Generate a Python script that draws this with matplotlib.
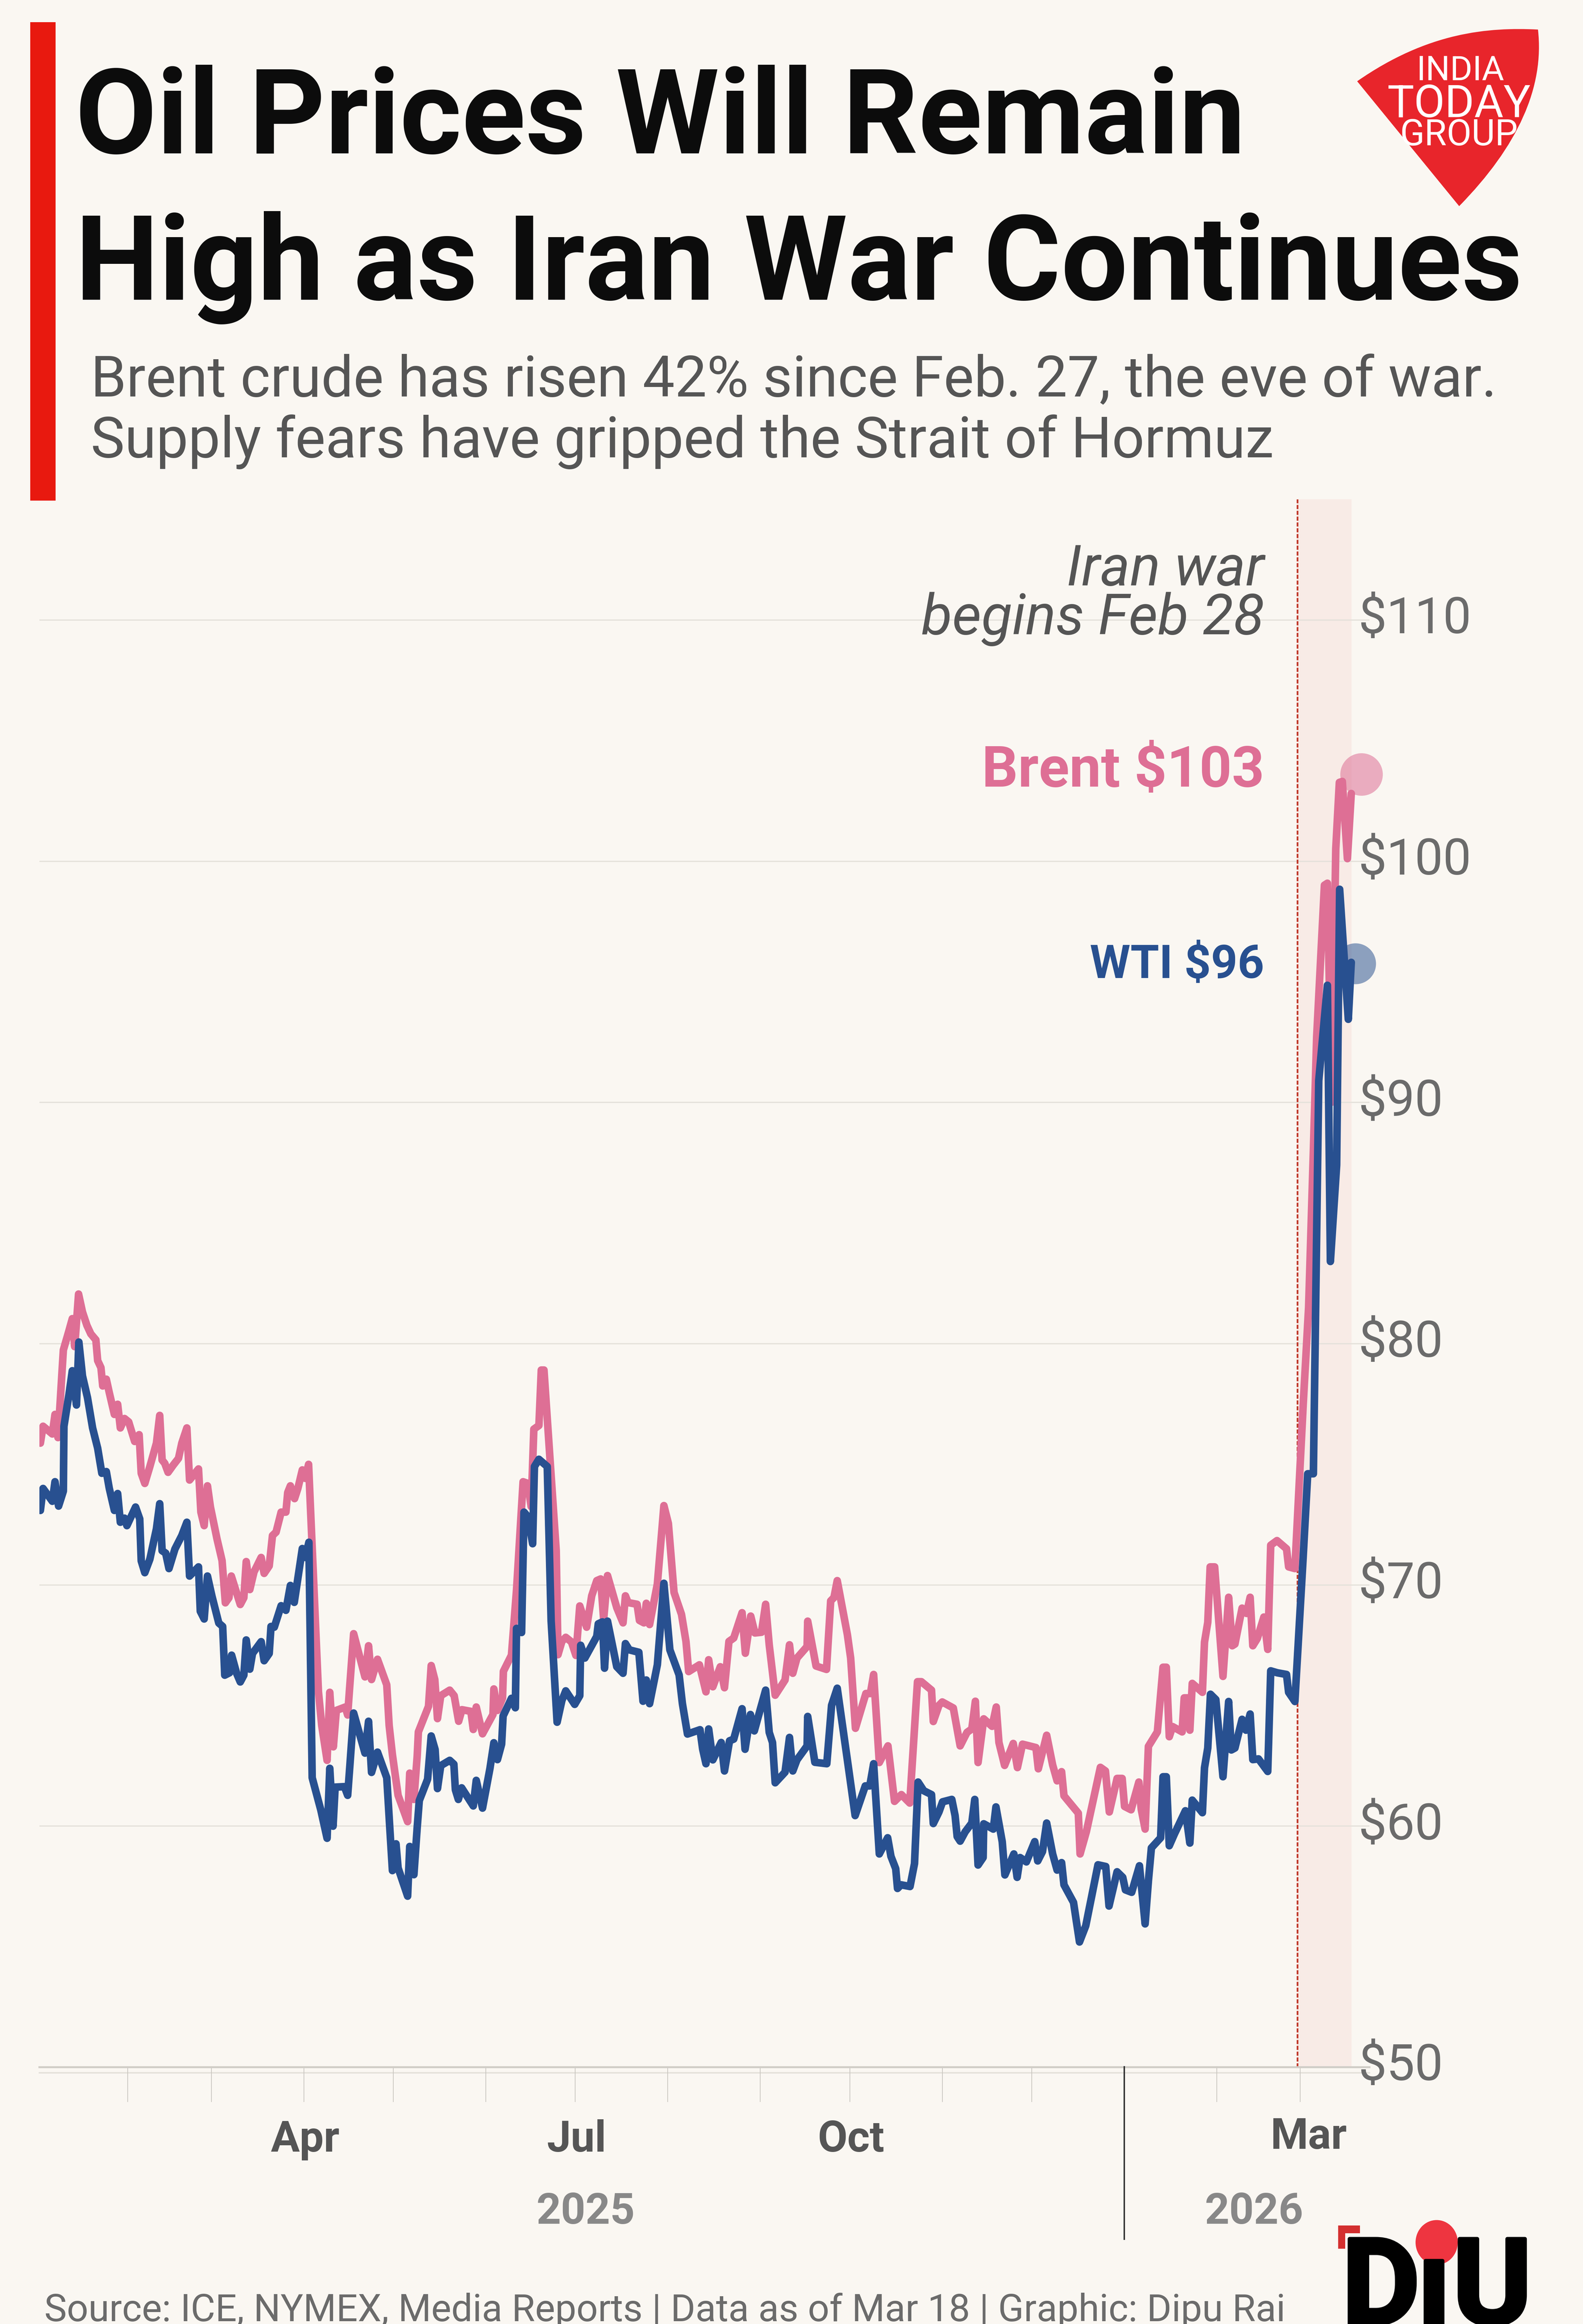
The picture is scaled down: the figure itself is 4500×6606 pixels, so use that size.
import matplotlib
matplotlib.use("Agg")
import matplotlib.pyplot as plt
import matplotlib.patheffects as pe
from matplotlib.path import Path
from matplotlib.patches import PathPatch, Rectangle, Ellipse
import pandas as pd

W, H = 4500, 6607

# days since 1 Jan 2025, prices
brent_days = [2.2, 3.1, 6.2, 7.1, 8.1, 9.9, 11.8, 12.9, 13.7, 15, 16.3, 17.8, 19.1, 20.8, 21.4, 22.5, 23.1, 24.3, 25.3, 27,
              28.1, 29, 30.4, 31.8, 33.8, 35.3, 36, 37.2, 38.9, 41.1, 42.2, 43, 43.9, 45, 46.8, 48.5, 49.6, 51.3, 52.2, 55.2,
              56, 57.1, 58.2, 59.2, 61.4, 63.1, 64.2, 65.4, 66.2, 69.2, 70.4, 71.2, 72.4, 73.8, 76.2, 77.2, 78.9, 80, 81.2, 82.9,
              84.5, 85.1, 86, 87.4, 88.5, 90, 91, 92.1, 95.4, 96.5, 98.3, 99.2, 100.4, 101.4, 104.4, 105.2, 105.9, 107.2, 111, 112.2,
              113.2, 115.2, 118.3, 119.1, 120.2, 122.1, 125.3, 126, 127.4, 128.5, 128.9, 132.3, 133.2, 134.4, 135.3, 136.4, 139.4, 140.9, 142.4, 143.5,
              146.5, 147.3, 148.3, 150.4, 153.9, 154.2, 155.4, 157.1, 157.4, 160.1, 161.8, 164, 165.6, 166.7, 167.6, 169.3, 170.1, 171, 175.1, 175.7,
              177, 178.3, 180.2, 181.7, 183, 185.3, 187, 188.7, 190, 191, 192.3, 195.4, 197.5, 198.3, 199.2, 202.2, 203, 204.5, 205.3, 206.4,
              209, 211.2, 212.7, 214.6, 217.1, 218.6, 219.5, 223.1, 225.3, 226.2, 227.6, 230.1, 231.5, 233, 234.6, 237.4, 238.5, 240.3, 241.7, 243.9,
              245.3, 246.5, 248.5, 251.8, 253.3, 254.4, 255.8, 259.2, 259.4, 262.2, 265.7, 267.1, 268.2, 269.3, 272.7, 273.8, 275.4, 278.9, 280.4, 281.5,
              283.4, 286.3, 288.5, 290.8, 293.6, 296.2, 297.5, 300.9, 301.5, 303.4, 304.5, 308.2, 310.5, 312.8, 314.4, 315.6, 316.5, 318.4, 321.2, 322.6,
              323.5, 325.4, 328.3, 329.7, 331.4, 335.9, 336.7, 339.5, 341.5, 343, 344.5, 345.3, 350.1, 350.7, 352.8, 357.5, 359.2, 360.5, 363.1, 364.8,
              365.6, 367.8, 370.4, 371.2, 372.5, 373.6, 376.6, 378.5, 379.6, 380.6, 381.7, 384.9, 385.6, 386.8, 387.5, 388.3, 391.7, 392.4, 393.5, 394.3,
              395.8, 398.6, 400.5, 401.7, 402.6, 405, 406.5, 407.7, 408.6, 410.1, 412.3, 413.6, 414.6, 416.7, 419.9, 420.6, 422.7, 425.5, 427.3, 428.9,
              430, 432.6, 433.6, 435, 436.4, 437.6, 438.6, 440.3, 441.6]
brent_vals = [75.87, 76.57, 76.25, 77.06, 76.1, 79.73, 80.54, 81.03, 79.87, 82.05, 81.31, 80.75, 80.4, 80.15, 79.29, 79.0, 78.24, 78.52, 77.96, 77.06,
              77.48, 76.5, 76.89, 76.75, 75.94, 76.22, 74.62, 74.2, 74.9, 75.87, 77.02, 75.17, 75.03, 74.66, 74.97, 75.24, 75.87, 76.5, 74.34, 74.8,
              73.01, 72.45, 74.1, 73.22, 71.9, 71.0, 69.25, 69.46, 70.36, 69.18, 69.46, 70.96, 69.8, 70.53, 71.13, 70.47, 70.78, 72.04, 72.18, 73.01,
              73.01, 73.82, 74.1, 73.57, 73.99, 74.76, 74.41, 74.99, 65.57, 64.17, 62.72, 65.54, 63.28, 64.79, 64.93, 64.6, 65.8, 67.97, 66.18, 67.47,
              66.07, 66.91, 65.85, 64.17, 62.95, 61.27, 60.18, 62.19, 61.1, 62.89, 63.9, 64.96, 66.65, 66.07, 64.45, 65.4, 65.63, 65.4, 64.34, 64.82,
              64.75, 64.0, 64.93, 63.82, 64.62, 65.68, 64.79, 65.3, 66.41, 67.08, 69.78, 74.27, 74.2, 73.24, 76.45, 76.6, 78.9, 78.9, 71.42, 67.1,
              67.65, 67.82, 67.63, 67.07, 69.12, 68.24, 69.54, 70.17, 70.24, 68.56, 70.38, 69.05, 68.42, 69.54, 69.26, 69.19, 68.52, 68.42, 69.23, 68.35,
              70.03, 73.28, 72.54, 69.68, 68.77, 67.65, 66.4, 66.68, 65.56, 66.89, 65.77, 66.6, 65.73, 67.65, 67.79, 68.84, 67.16, 68.7, 68, 68.03,
              69.19, 67.51, 65.42, 66.05, 67.51, 66.33, 66.96, 67.44, 68.49, 66.63, 66.49, 69.33, 69.47, 70.17, 67.93, 66.96, 64.05, 65.49, 65.49, 66.28,
              62.63, 63.32, 61.02, 61.3, 60.95, 65.98, 65.98, 65.63, 64.33, 65, 65.14, 64.89, 63.32, 63.88, 64.02, 65.17, 62.63, 64.44, 64.13, 64.93,
              63.46, 62.51, 63.42, 62.42, 63.39, 63.25, 62.37, 63.76, 62.53, 61.87, 62.25, 61.25, 60.53, 58.84, 59.76, 62.43, 62.28, 60.58, 61.97, 61.97,
              60.81, 60.67, 61.82, 60.69, 59.87, 63.3, 63.9, 66.58, 66.58, 63.7, 64.12, 63.9, 65.31, 65.31, 63.97, 65.91, 65.54, 67.62, 68.44, 70.74,
              70.74, 66.2, 69.48, 67.47, 67.54, 69.03, 68.81, 69.48, 67.47, 67.77, 68.66, 67.32, 71.64, 71.83, 71.49, 70.74, 70.67, 77.5, 81.5, 88,
              92.7, 99, 99.08, 90, 100.5, 103.26, 103.3, 100.1, 102.8]

wti_days = [2.2, 3.1, 6.2, 7.1, 8.3, 9.9, 10.1, 11.8, 12.9, 14.3, 15.1, 16.3, 18, 19.7, 21.4, 22.8, 24.3, 25.3, 27, 28.1,
            29, 30.4, 31.2, 34.1, 35.5, 36, 37.2, 38.9, 41.1, 42.2, 43, 44.2, 45.3, 47.3, 49.6, 51.3, 52.2, 55.2, 55.8, 57.1,
            58.2, 59.7, 62, 63.3, 64, 65.6, 66.3, 68, 69.2, 70.4, 71.2, 72.4, 73.3, 76.2, 77.2, 78.9, 79.5, 80.6, 82.9, 84.5,
            86, 87.3, 90, 91, 92.2, 93.3, 96.2, 98.3, 99.2, 100.3, 101, 104.1, 105.2, 105.9, 107.2, 111, 112.2, 113.2, 115.2, 118.3,
            119.2, 120.2, 121.4, 122.1, 125.3, 126, 127.4, 128.5, 129.2, 132, 133.2, 134.5, 135.3, 136.4, 139.4, 140.8, 141.3, 142.3, 143.4, 147.3,
            148.3, 150.4, 152.9, 154.2, 155.4, 156.8, 157.3, 160.1, 161.4, 161.8, 163.5, 164.3, 165.6, 167.2, 167.8, 169.3, 172.1, 173.4, 175.4, 177,
            178.3, 181.3, 183, 183.3, 184.7, 188.7, 189.2, 190.6, 191.3, 192.3, 195.4, 197.5, 198.3, 199.6, 202.8, 204.2, 205.3, 206.4, 209, 211.2,
            213.2, 216.3, 217.4, 219.1, 223.3, 224.2, 225.3, 226.2, 227.6, 230.4, 231.5, 233.2, 234.6, 237.4, 238.4, 240.2, 241.5, 245.3, 246.5, 247.6,
            248.5, 251.8, 253.3, 254.4, 255.8, 259.2, 259.4, 261.8, 265.8, 267.4, 269.3, 273.1, 275.3, 278.7, 280.2, 281.5, 283.4, 286.2, 287.3, 288.9,
            289.5, 290.7, 293.7, 295.2, 296.4, 298.3, 300.9, 301.5, 303.4, 304.6, 307.7, 308.8, 309.5, 310.5, 312.2, 314.4, 315.4, 316.5, 318.2, 318.4,
            321.6, 322.5, 324.6, 325.5, 328.5, 329.6, 330.6, 332.7, 335.5, 336.5, 338.1, 339.5, 341.5, 343, 344.5, 345.3, 348.5, 350.5, 352.6, 356.7,
            359.3, 360.4, 363.1, 365, 365.9, 368, 370.6, 372.5, 373.6, 374.6, 377.7, 378.5, 379.6, 380.6, 382.3, 386, 387.5, 388.3, 391.7, 392.4,
            393.5, 394.4, 396.2, 398.6, 400.5, 401.4, 402.6, 405, 406.3, 407.7, 408.6, 410.5, 413.6, 414.6, 416.8, 419.9, 420.6, 422.7, 425.5, 427,
            428.9, 430.7, 433.6, 434.6, 436.7, 437.7, 440.6, 441.6]
wti_vals = [73.08, 73.99, 73.46, 74.27, 73.26, 73.88, 76.57, 77.9, 78.87, 77.45, 80.06, 78.66, 77.75, 76.5, 75.66, 74.62, 74.69, 73.99, 73.08, 73.78,
            72.59, 72.76, 72.45, 73.22, 72.73, 70.99, 70.5, 71.06, 72.32, 73.36, 71.41, 71.31, 70.67, 71.48, 72.04, 72.59, 70.36, 70.74, 68.9, 68.58,
            70.36, 69.53, 68.41, 68.27, 66.25, 66.35, 67.08, 66.32, 65.97, 66.25, 67.71, 66.5, 67.15, 67.64, 66.85, 67.15, 68.27, 68.24, 69.13, 68.94,
            69.97, 69.27, 71.5, 71.13, 71.76, 62, 60.66, 59.49, 62.39, 59.99, 61.61, 61.63, 61.27, 62.44, 64.68, 63.02, 64.34, 62.22, 63.06, 62,
            60.16, 58.15, 59.26, 58.26, 57.09, 59.15, 57.98, 59.93, 61.05, 61.94, 63.73, 63.17, 61.55, 62.5, 62.72, 62.56, 61.5, 61.1, 61.58, 60.83,
            61.89, 60.74, 62.39, 63.45, 62.75, 63.39, 64.56, 65.29, 64.9, 68.19, 68.02, 73.01, 72.82, 71.7, 74.9, 75.2, 74.9, 68.5, 64.3, 65.2,
            65.6, 65.04, 65.4, 67.49, 66.96, 67.86, 68.38, 68.46, 66.54, 68.49, 66.6, 66.33, 67.56, 67.3, 67.2, 65.17, 66.05, 65.07, 66.68, 70.06,
            67.3, 66.26, 65.07, 63.81, 63.99, 63.18, 62.58, 64.02, 62.74, 63.46, 62.28, 63.53, 63.6, 64.86, 63.18, 64.62, 63.94, 65.63, 63.88, 63.46,
            61.79, 62.23, 63.67, 62.28, 62.74, 63.32, 64.54, 62.64, 62.58, 65, 65.71, 62.38, 60.43, 61.66, 61.66, 62.58, 58.84, 59.51, 58.74, 58.23,
            57.41, 57.56, 57.49, 58.44, 61.82, 61.46, 61.3, 60.1, 60.58, 61, 61.1, 60.43, 59.56, 59.37, 59.76, 60.12, 61.1, 58.38, 58.69, 60.09,
            59.87, 60.79, 59.35, 57.97, 58.84, 57.87, 58.69, 58.51, 59.35, 58.55, 58.94, 60.12, 58.84, 58.17, 58.48, 57.56, 56.83, 55.19, 55.86, 58.39,
            58.32, 56.68, 58.1, 57.87, 57.35, 57.25, 58.35, 55.94, 57.72, 59.09, 59.51, 62.04, 62.04, 59.18, 59.66, 60.63, 59.29, 61.07, 60.55, 62.41,
            63.23, 65.46, 65.24, 62.04, 65.16, 63.15, 63.23, 64.42, 63.97, 64.64, 62.75, 62.78, 62.26, 66.43, 66.35, 66.28, 65.54, 65.16, 71.2, 74.6,
            74.6, 90.9, 94.85, 83.4, 87.4, 98.83, 93.44, 95.8]

price_ticks = [50, 60, 70, 80, 90, 100, 110]
month_ticks = ["2025-02-01 12:00", "2025-03-01 12:00", "2025-04-01 12:00", "2025-05-01 12:00", "2025-06-01 12:00",
               "2025-07-01 12:00", "2025-08-01 12:00", "2025-09-01 12:00", "2025-10-01 12:00", "2025-11-01 12:00",
               "2025-12-01 12:00", "2026-02-01 12:00", "2026-03-01 12:00"]
month_labels = ["Apr", "Jul", "Oct", "Mar"]
month_label_dates = ["2025-04-01", "2025-07-01", "2025-10-01", "2026-03-01"]
year_labels = ["2025", "2026"]
year_label_dates = ["2025-07-05", "2026-02-14"]
year_split = "2026-01-01 12:00"
war_start = "2026-02-28 12:00"
last_day = "2026-03-18 16:00"

BG = "#FAF7F2"
PINK = "#DE6F95"
BLUE = "#285090"
GRID = "#E4E1DA"


def to_dates(days):
    return pd.Timestamp("2025-01-01") + pd.to_timedelta(days, unit="D")


def px_text(x, y, s, **kw):
    # figure text placed by pixel position, y counted from the top
    return fig.text(x / W, 1 - y / H, s, va="baseline", **kw)


plt.rcParams["font.family"] = ["Roboto", "DejaVu Sans"]
fig = plt.figure(figsize=(W / 100, H / 100), dpi=100, facecolor=BG)
ax = fig.add_axes([112 / W, 1 - 5877 / H, (3893 - 112) / W, (5877 - 1420) / H])
ax.patch.set_alpha(0)

# header
fig.add_artist(Rectangle((86 / W, 1 - 1424 / H), 72 / W, 1360 / H, transform=fig.transFigure, color="#E8190F", lw=0))
px_text(214, 436, "Oil Prices Will Remain", fontsize=242, fontweight="bold", color="#0C0C0C")
px_text(214, 852, "High as Iran War Continues", fontsize=242, fontweight="bold", color="#0C0C0C")
px_text(258, 1127, "Brent crude has risen 42% since Feb. 27, the eve of war.", fontsize=116.9, color="#555555")
px_text(258, 1300, "Supply fears have gripped the Strait of Hormuz", fontsize=116.9, color="#555555")

# war shading and marker line
ax.axvspan(pd.Timestamp(war_start), pd.Timestamp(last_day), color="#F8EBE6", lw=0, zorder=1)
ax.axvline(pd.Timestamp(war_start), color="#C0392B", lw=3.5, ls=(0, (2.4, 1)), zorder=2)

for p in price_ticks[1:]:
    ax.axhline(p, color=GRID, lw=2.5, zorder=1.5)
    ax.annotate(f"${p}", xy=(3861 / W, p), xycoords=("figure fraction", "data"), xytext=(0, -27),
                textcoords="offset points", fontsize=103, color="#6B6B6B", va="baseline", annotation_clip=False)
ax.annotate(f"${price_ticks[0]}", xy=(3861 / W, 50), xycoords=("figure fraction", "data"), xytext=(0, -26),
            textcoords="offset points", fontsize=103, color="#6B6B6B", va="baseline", annotation_clip=False)

ax.plot(to_dates(brent_days), brent_vals, color=PINK, lw=15.5, solid_joinstyle="round", solid_capstyle="round", zorder=4)
ax.plot(to_dates(wti_days), wti_vals, color=BLUE, lw=15.5, solid_joinstyle="round", solid_capstyle="round", zorder=5)

# end dots sit just past the last reading
ax.scatter(pd.Timestamp("2026-03-22"), 103.6, s=7570, color=PINK, alpha=0.55, lw=0, zorder=3, clip_on=False)
ax.scatter(pd.Timestamp("2026-03-20"), 95.75, s=7000, color=BLUE, alpha=0.52, lw=0, zorder=3, clip_on=False)

px_text(3594, 1664, "Iran war", fontsize=116, style="italic", color="#555555", ha="right")
px_text(3594, 1803, "begins Feb 28", fontsize=116, style="italic", color="#555555", ha="right")
px_text(3594, 2236, "Brent $103", fontsize=116, fontweight="bold", color=PINK, ha="right")
px_text(3594, 2780, "WTI $96", fontsize=95, fontweight="bold", color=BLUE, ha="right")

ax.set_ylim(50, 115)
ax.set_xlim(to_dates(1.87), to_dates(447.7))
ax.set_yticks([])
for s in ["top", "left", "right"]:
    ax.spines[s].set_visible(False)
ax.spines["bottom"].set_color("#D0CDC7")
ax.spines["bottom"].set_linewidth(4)
ax.axhline(49.77, color=GRID, lw=3, clip_on=False, zorder=1)
ax.set_xticks(pd.to_datetime(month_ticks))
ax.set_xticklabels([])
ax.tick_params(axis="x", length=71, width=1.5, color="#C9C6C0")

for lab, d in zip(month_labels, month_label_dates):
    off = (6, -172) if lab != "Mar" else (20, -166)
    ax.annotate(lab, xy=(pd.Timestamp(d), 50), xycoords="data", xytext=off, textcoords="offset points",
                fontsize=88, fontweight="bold", color="#555555", ha="center", va="baseline", annotation_clip=False)
for lab, d in zip(year_labels, year_label_dates):
    ax.annotate(lab, xy=(pd.Timestamp(d), 50), xycoords="data", xytext=(0, -320), textcoords="offset points",
                fontsize=88, fontweight="bold", color="#888888", ha="center", va="baseline", annotation_clip=False)
ax.vlines(pd.Timestamp(year_split), 42.84, 50.05, color="#333333", lw=3, clip_on=False, zorder=6)

px_text(126, 6598, "Source: ICE, NYMEX, Media Reports | Data as of Mar 18 | Graphic: Dipu Rai", fontsize=77.4, color="#6B6B6B")

# India Today shield, top right
shield = Path([(3858, 232), (4059, 92), (4231, 78), (4372, 85), (4372, 85), (4400, 330), (4148, 587), (3858, 232)],
              [Path.MOVETO, Path.CURVE4, Path.CURVE4, Path.CURVE4, Path.LINETO, Path.CURVE3, Path.CURVE3, Path.LINETO])
shield_px = shield.transformed(matplotlib.transforms.Affine2D().scale(1 / W, -1 / H).translate(0, 1))
fig.add_artist(PathPatch(shield_px, transform=fig.transFigure, fc="#E8252B", ec="none"))
px_text(4151, 228, "INDIA", fontsize=70, color="white", ha="center")
px_text(4148, 333, "TODAY", fontsize=92, color="white", ha="center")
px_text(4148, 413, "GROUP", fontsize=74, color="white", ha="center")

# DiU mark, bottom right
fig.add_artist(Rectangle((3804 / W, 1 - 6349 / H), 62 / W, 22 / H, transform=fig.transFigure, color="#D32F2F", lw=0))
fig.add_artist(Rectangle((3804 / W, 1 - 6393 / H), 20 / W, 66 / H, transform=fig.transFigure, color="#D32F2F", lw=0))
thick = [pe.withStroke(linewidth=8, foreground="black")]
px_text(3815, 6607, "D", fontsize=245, fontweight="bold", color="black", path_effects=thick)
px_text(4030, 6607, "\u0131", fontsize=245, fontweight="bold", color="black", path_effects=thick)
px_text(4130, 6607, "U", fontsize=245, fontweight="bold", color="black", path_effects=thick)
fig.add_artist(Ellipse((4084 / W, 1 - 6375 / H), 120 / W, 127 / H, transform=fig.transFigure, fc="#EE3540", ec="none"))

fig.savefig("out.png", dpi=100, facecolor=BG)
